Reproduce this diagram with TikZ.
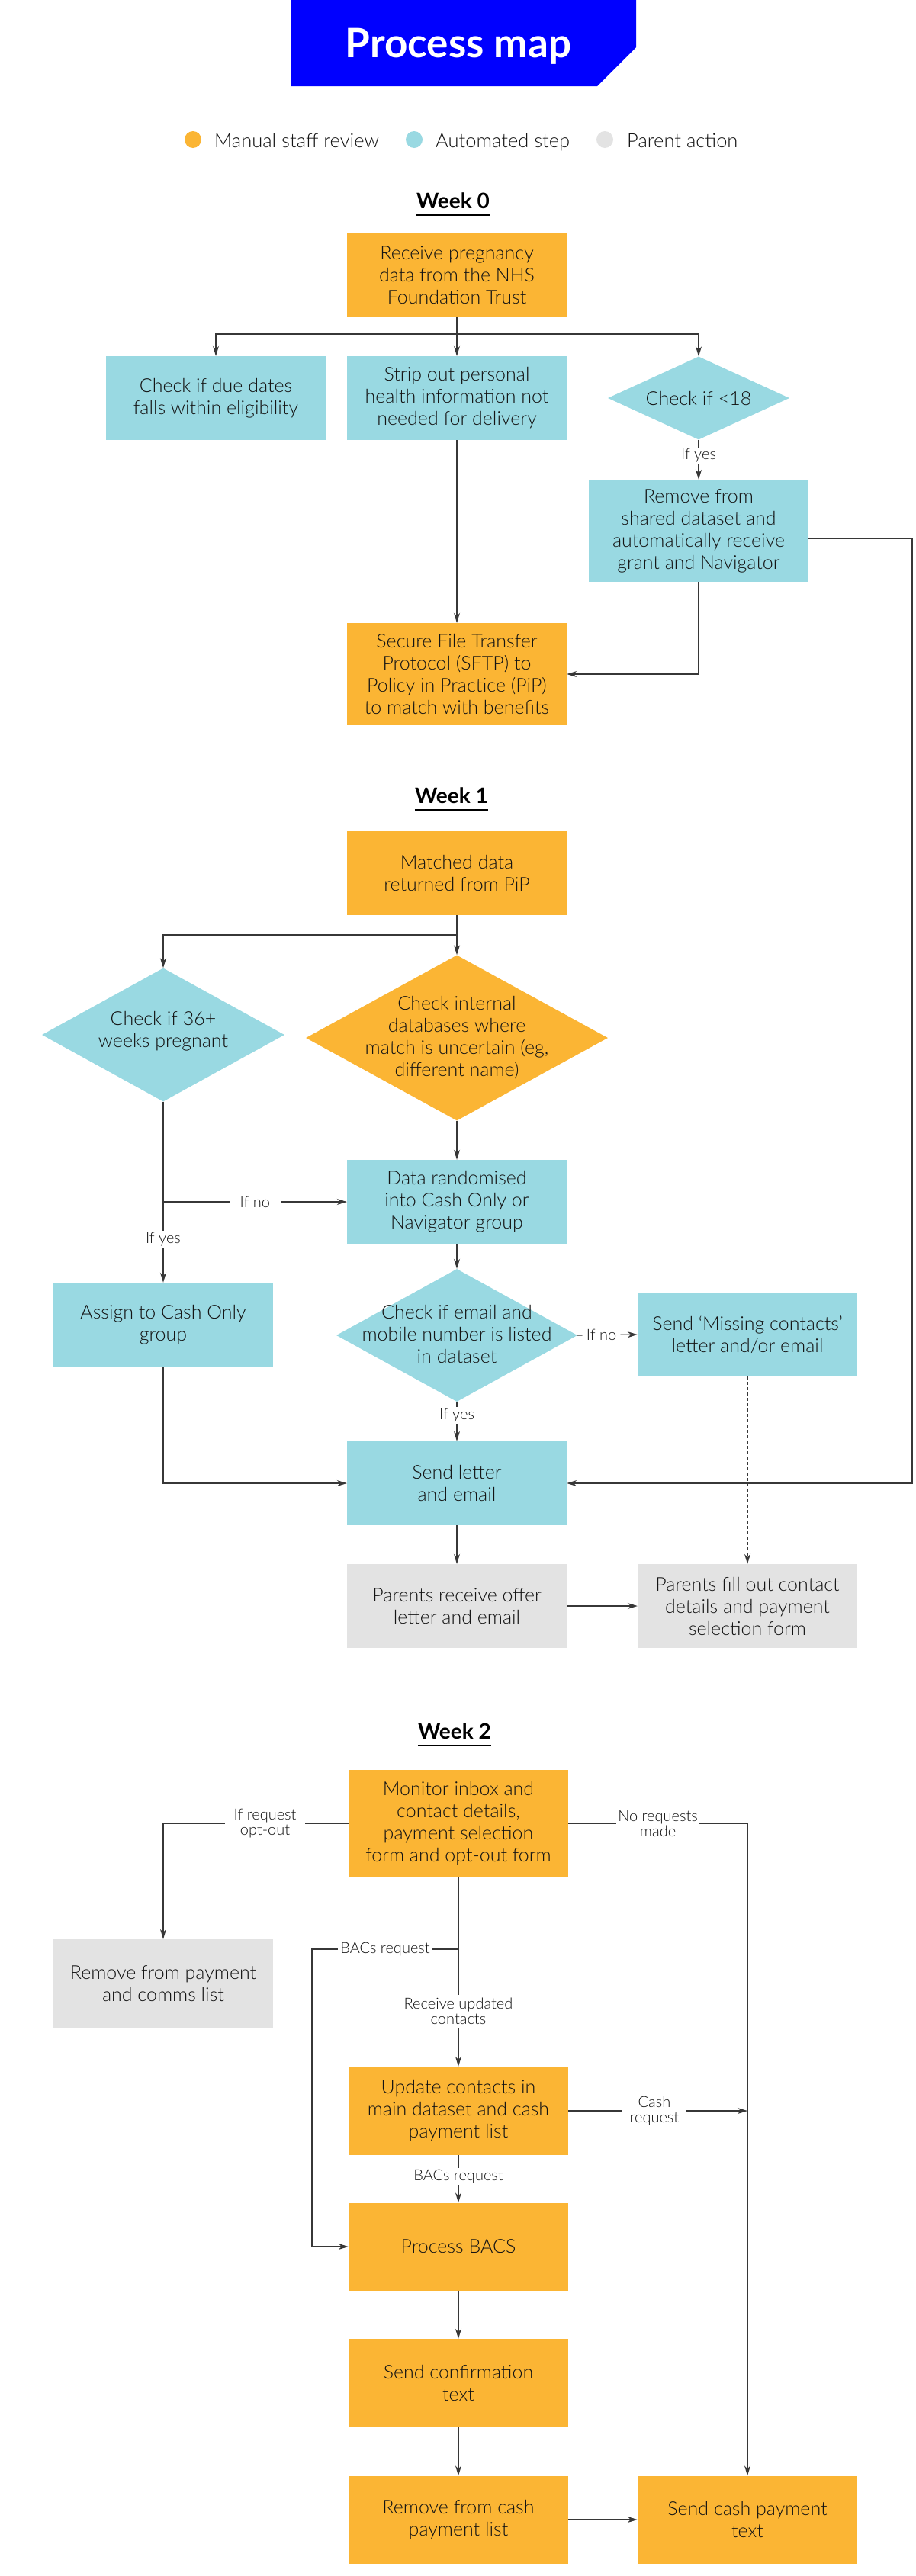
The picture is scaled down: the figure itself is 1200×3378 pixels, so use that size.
\documentclass[tikz,border=0pt]{standalone}
\usepackage{fontspec}
\IfFontExistsTF{Lato Light}{\setmainfont{Lato Light}[BoldFont={Lato Bold}]}{\setmainfont{Lato}}
\usetikzlibrary{shapes.geometric,arrows.meta}
\definecolor{orangeC}{RGB}{251,181,52}
\definecolor{cyanC}{RGB}{153,217,226}
\definecolor{grayC}{RGB}{227,227,227}
\definecolor{blueC}{RGB}{0,0,255}
\definecolor{lineC}{RGB}{55,55,55}
\definecolor{txtC}{RGB}{20,20,20}
\tikzset{
  boxbase/.style={rectangle, minimum width=288pt, minimum height=110pt, inner sep=0pt, align=center, text=txtC, font=\fontsize{25}{29}\selectfont},
  manbox/.style={boxbase, fill=orangeC},
  autbox/.style={boxbase, fill=cyanC},
  pbox/.style={boxbase, fill=grayC},
  diabase/.style={diamond, inner sep=0pt},
  diatext/.style={align=center, inner sep=0pt, text=txtC, font=\fontsize{25}{29}\selectfont},
  lbl/.style={fill=white, inner xsep=8pt, inner ysep=4pt, align=center, text=txtC, font=\fontsize{20}{20}\selectfont},
  ln/.style={draw=lineC, line width=1.1pt},
  arr/.style={ln, -{Stealth[length=13pt,width=8pt]}},
  legtext/.style={anchor=base west, inner sep=0pt, text=txtC, font=\fontsize{25.5}{28}\selectfont},
  legdot/.style={circle, minimum size=22pt, inner sep=0pt},
  weekhead/.style={anchor=base, inner sep=0pt, text=black, font=\fontsize{28}{30}\selectfont\bfseries},
  uline/.style={draw=black, line width=2.5pt}
}
\begin{document}
\begin{tikzpicture}[x=1pt,y=-1pt]
\useasboundingbox[fill=white] (0,0) rectangle (1200,3378);

% Title
\fill[blueC] (382,0) -- (834,0) -- (834,62) -- (783,113) -- (382,113) -- cycle;
\node[anchor=base, inner sep=0pt, text=white, font=\fontsize{53}{56}\selectfont\bfseries] (title) at (601,75) {Process map};

% Legend
\node[legdot, fill=orangeC] (ld1) at (253,183) {};
\node[legtext] (lt1) at (281,193) {Manual staff review};
\node[legdot, fill=cyanC] (ld2) at (543,183) {};
\node[legtext] (lt2) at (571,193) {Automated step};
\node[legdot, fill=grayC] (ld3) at (793,183) {};
\node[legtext] (lt3) at (822,193) {Parent action};

% ---------- Week 0 ----------
\node[weekhead] (w0) at (594,273) {Week 0};
\draw[uline] ([yshift=-9pt]w0.base west) -- ([yshift=-9pt]w0.base east);

\node[manbox] (rec) at (599,361) {Receive pregnancy\\data from the NHS\\Foundation Trust};
\node[autbox] (due) at (283,522) {Check if due dates\\falls within eligibility};
\node[autbox] (strip) at (599,522) {Strip out personal\\health information not\\needed for delivery};
\node[diabase, fill=cyanC, minimum width=238pt, minimum height=109pt] (lt18) at (916,522) {};
\node[diatext] (lt18t) at (lt18) {Check if <18};
\node[autbox, minimum height=134pt] (remsh) at (916,696) {Remove from\\shared dataset and\\automatically receive\\grant and Navigator};
\node[manbox, minimum height=134pt] (sftp) at (599,884) {Secure File Transfer\\Protocol (SFTP) to\\Policy in Practice (PiP)\\to match with benefits};

\coordinate (br0) at (599,438);
\draw[ln] (rec.south) -- (br0);
\draw[arr] (br0) -| (due.north);
\draw[arr] (br0) -- (strip.north);
\draw[arr] (br0) -| (lt18.north);
\draw[arr] (lt18.south) -- node[lbl, pos=0.4, inner ysep=2pt] {If yes} (remsh.north);
\draw[arr] (strip.south) -- (sftp.north);
\draw[arr] (remsh.south) |- (sftp.east);
\coordinate (rr) at (1196,706);

% ---------- Week 1 ----------
\node[weekhead] (w1) at (592,1053) {Week 1};
\draw[uline] ([yshift=-9pt]w1.base west) -- ([yshift=-9pt]w1.base east);

\node[manbox] (match) at (599,1145) {Matched data\\returned from PiP};
\node[diabase, fill=cyanC, minimum width=318pt, minimum height=175pt] (w36) at (214,1357) {};
\node[diatext] (w36t) at (214,1352) {Check if 36+\\weeks pregnant};
\node[diabase, fill=orangeC, minimum width=396pt, minimum height=217pt] (chk) at (599,1361) {};
\node[diatext] (chkt) at (chk) {Check internal\\databases where\\match is uncertain (eg,\\different name)};
\node[autbox] (rand) at (599,1576) {Data randomised\\into Cash Only or\\Navigator group};
\node[autbox] (assign) at (214,1737) {Assign to Cash Only\\group};
\node[diabase, fill=cyanC, minimum width=316pt, minimum height=174pt] (em) at (599,1751) {};
\node[diatext] (emt) at (599,1749) {Check if email and\\mobile number is listed\\in dataset};
\node[autbox] (miss) at (980,1750) {Send ‘Missing contacts’\\letter and/or email};
\node[autbox] (send) at (599,1945) {Send letter\\and email};
\node[pbox] (prec) at (599,2106) {Parents receive offer\\letter and email};
\node[pbox] (pfill) at (980,2106) {Parents fill out contact\\details and payment\\selection form};

\coordinate (br1) at (599,1226);
\draw[ln] (match.south) -- (br1);
\draw[arr] (br1) -- (chk.north);
\draw[arr] (br1) -| (w36.north);
\draw[arr] (chk.south) -- (rand.north);
\draw[arr] (w36.south) -- node[lbl, pos=0.76, inner ysep=2pt] {If yes} (assign.north);
\coordinate (ifno) at (214,1576);
\draw[arr] (ifno) -- node[lbl, inner xsep=14pt] {If no} (rand.west);
\draw[arr] (rand.south) -- (em.north);
\draw[arr] (em.east) -- node[lbl, pos=0.4, inner xsep=5pt] {If no} (miss.west);
\draw[arr] (em.south) -- node[lbl, pos=0.35, inner ysep=2pt] {If yes} (send.north);
\draw[arr] (assign.south) |- (send.west);
\draw[arr] (remsh.east |- rr) -- (rr) |- (send.east);
\draw[arr] (send.south) -- (prec.north);
\draw[arr, dash pattern=on 4pt off 3pt] (miss.south) -- (pfill.north);
\draw[arr] (prec.east) -- (pfill.west);

% ---------- Week 2 ----------
\node[weekhead] (w2) at (596,2280) {Week 2};
\draw[uline] ([yshift=-9pt]w2.base west) -- ([yshift=-9pt]w2.base east);

\node[manbox, minimum height=140pt] (mon) at (601,2391) {Monitor inbox and\\contact details,\\payment selection\\form and opt-out form};
\node[pbox, minimum height=116pt] (rempay) at (214,2601) {Remove from payment\\and comms list};
\node[manbox, minimum height=116pt] (upd) at (601,2768) {Update contacts in\\main dataset and cash\\payment list};
\node[manbox, minimum height=115pt] (pb) at (601,2946) {Process BACS};
\node[manbox, minimum height=116pt] (conf) at (601,3125) {Send confirmation\\text};
\node[manbox, minimum height=115pt] (remc) at (601,3304) {Remove from cash\\payment list};
\node[manbox, minimum height=115pt] (scash) at (980,3304) {Send cash payment\\text};

\draw[arr] (mon.west) -- node[lbl, pos=0.45, inner xsep=12pt] {If request\\opt-out} (rempay.north |- mon.west) -- (rempay.north);
\draw[arr] (mon.east) -- node[lbl, pos=0.5, inner xsep=2pt] {No requests\\made} (scash.north |- mon.east) -- (scash.north);
\draw[arr] (mon.south) -- node[lbl, pos=0.71, inner xsep=2pt, inner ysep=4pt] {Receive updated\\contacts} (upd.north);
\coordinate (bacs) at (601,2556);
\coordinate (bl) at (409,2556);
\draw[arr] (bacs) -- node[lbl, inner xsep=3pt, inner ysep=2pt] {BACs request} (bl) |- (pb.west);
\draw[arr] (upd.east) -- node[lbl, pos=0.48, inner xsep=10pt] {Cash\\request} (upd.east -| scash.north);
\draw[arr] (upd.south) -- node[lbl, pos=0.45, inner ysep=2pt] {BACs request} (pb.north);
\draw[arr] (pb.south) -- (conf.north);
\draw[arr] (conf.south) -- (remc.north);
\draw[arr] (remc.east) -- (scash.west);
\end{tikzpicture}
\end{document}
